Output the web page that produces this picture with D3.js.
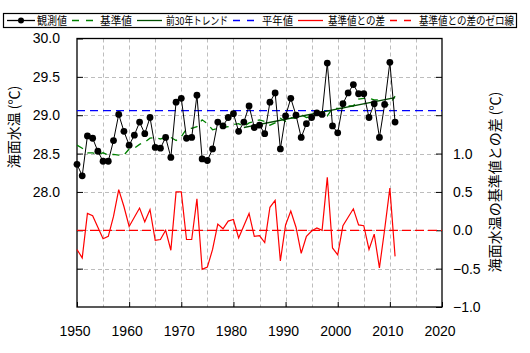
<!DOCTYPE html>
<html>
<head>
<meta charset="utf-8">
<script src="https://cdn.jsdelivr.net/npm/d3@7"></script>
<style>
  body { margin: 0; background: #fff; }
  svg { display: block; }
  .tick text { font-family: "Liberation Sans", Arial, sans-serif; font-size: 14px; fill: #000; }
  .jp { font-family: "Noto Sans CJK JP", sans-serif; fill: #000; }
</style>
</head>
<body>
<div id="chart"></div>
<script>
// years 1950-2011
const years = d3.range(1950, 2012);

// 観測値 (left axis, ℃)
const observed = [
  28.36, 28.21, 28.73, 28.70, 28.53, 28.40, 28.40, 28.67, 29.01, 28.79,
  28.61, 28.74, 28.91, 28.76, 28.97, 28.58, 28.57, 28.71, 28.45, 29.17,
  29.22, 28.70, 28.71, 29.26, 28.43, 28.41, 28.56, 28.91, 28.86, 28.97,
  29.02, 28.79, 28.91, 29.12, 28.84, 28.87, 28.76, 29.17, 29.29, 28.56,
  28.99, 29.22, 29.00, 28.71, 28.89, 28.97, 29.03, 29.01, 29.68, 28.86,
  28.77, 29.15, 29.29, 29.40, 29.28, 29.28, 28.97, 29.15, 28.71, 29.14,
  29.69, 28.91
];

// 基準値 (left axis, ℃)
const baseline = [
  28.61, 28.57, 28.51, 28.51, 28.49, 28.51, 28.48, 28.49, 28.48, 28.48,
  28.56, 28.57, 28.62, 28.65, 28.70, 28.71, 28.69, 28.71, 28.71, 28.67,
  28.72, 28.82, 28.83, 28.85, 28.94, 28.89, 28.81, 28.83, 28.84, 28.85,
  28.88, 28.89, 28.85, 28.90, 28.92, 28.94, 28.92, 28.87, 28.90, 28.96,
  28.92, 28.97, 28.96, 29.01, 28.97, 28.98, 29.00, 29.01, 28.99, 29.09,
  29.09, 29.09, 29.12, 29.12, 29.21, 29.22, 29.22, 29.20, 29.20, 29.13,
  29.14, 29.25
];

// 基準値との差 (right axis, ℃)
const diff = [
  -0.25, -0.36, 0.22, 0.19, 0.04, -0.11, -0.08, 0.18, 0.53, 0.31,
  0.05, 0.17, 0.29, 0.11, 0.27, -0.13, -0.12, 0.00, -0.26, 0.50,
  0.50, -0.12, -0.12, 0.41, -0.51, -0.48, -0.25, 0.08, 0.02, 0.12,
  0.14, -0.10, 0.06, 0.22, -0.08, -0.07, -0.16, 0.30, 0.39, -0.40,
  0.07, 0.25, 0.04, -0.30, -0.08, -0.01, 0.03, 0.00, 0.69, -0.23,
  -0.32, 0.06, 0.17, 0.28, 0.07, 0.06, -0.25, -0.05, -0.49, 0.01,
  0.55, -0.34
];

// 前30年トレンド
const trendYears = [1982, 2011];
const trendValues = [28.84, 29.23];

// 平年値
const normalValue = 29.06;

const xTicks = [1950, 1960, 1970, 1980, 1990, 2000, 2010, 2020];
const xGrid = d3.range(1955, 2020, 5);
const leftTicks = [27.0, 27.5, 28.0, 28.5, 29.0, 29.5, 30.0];
const rightTicks = [-0.5, 0.0, 0.5, 1.0, 1.5, 2.0];
const legendLabels = ["観測値", "基準値", "前30年トレンド", "平年値", "基準値との差", "基準値との差のゼロ線"];

const width = 530, height = 353;
const plotLeft = 77, plotRight = 442, plotTop = 38.5, plotBottom = 307;

const svg = d3.select("#chart").append("svg")
  .attr("width", width)
  .attr("height", height);

const x = d3.scaleLinear().domain([1950, 2020]).range([plotLeft, plotRight]);
const yL = d3.scaleLinear().domain([26.5, 30]).range([plotBottom, plotTop]);
const yR = d3.scaleLinear().domain([-1, 2.5]).range([plotBottom, plotTop]);

// grid
svg.append("g")
  .selectAll("line")
  .data(xGrid)
  .join("line")
    .attr("x1", d => Math.round(x(d)) + 0.5)
    .attr("x2", d => Math.round(x(d)) + 0.5)
    .attr("y1", plotTop)
    .attr("y2", plotBottom)
    .attr("stroke", "#bdbdbd")
    .attr("stroke-dasharray", "4,3");

svg.append("g")
  .selectAll("line")
  .data(leftTicks.filter(d => d < 30))
  .join("line")
    .attr("x1", plotLeft)
    .attr("x2", plotRight)
    .attr("y1", d => Math.round(yL(d)) + 0.5)
    .attr("y2", d => Math.round(yL(d)) + 0.5)
    .attr("stroke", "#bdbdbd")
    .attr("stroke-dasharray", "4,3");

// axes
svg.append("g")
  .attr("transform", `translate(${plotLeft}, 0)`)
  .call(d3.axisLeft(yL).tickValues(leftTicks).tickSize(-6).tickPadding(17)
    .tickFormat(d => d >= 28 ? d3.format(".1f")(d) : ""))
  .call(g => g.select(".domain").remove());

svg.append("g")
  .attr("transform", `translate(${plotRight}, 0)`)
  .call(d3.axisRight(yR).tickValues([-1.0, ...rightTicks]).tickSize(-6).tickPadding(11)
    .tickFormat(d => d <= 1 ? d3.format(".1f")(d) : ""))
  .call(g => g.select(".domain").remove());

svg.append("g")
  .attr("transform", `translate(0, ${plotBottom})`)
  .call(d3.axisBottom(x).tickValues(xTicks).tickSize(-5).tickPadding(19))
  .call(g => g.select(".domain").remove())
  .call(g => g.selectAll("text").attr("dx", -2.5).text(d => d));

svg.selectAll(".tick line").attr("stroke", "#000");

// frame
svg.append("rect")
  .attr("x", plotLeft)
  .attr("y", plotTop)
  .attr("width", plotRight - plotLeft)
  .attr("height", plotBottom - plotTop)
  .attr("fill", "none")
  .attr("stroke", "#000")
  .attr("stroke-width", 1.3);

// 平年値
svg.append("line")
  .attr("x1", plotLeft)
  .attr("x2", plotRight)
  .attr("y1", yL(normalValue))
  .attr("y2", yL(normalValue))
  .attr("stroke", "#0000ff")
  .attr("stroke-width", 1.3)
  .attr("stroke-dasharray", "8,5");

// zero line of diff
svg.append("line")
  .attr("x1", plotLeft)
  .attr("x2", plotRight)
  .attr("y1", yR(0))
  .attr("y2", yR(0))
  .attr("stroke", "#ff0000")
  .attr("stroke-width", 1.3)
  .attr("stroke-dasharray", "9,4");

// 基準値との差
svg.append("path")
  .datum(diff)
  .attr("fill", "none")
  .attr("stroke", "#ff0000")
  .attr("stroke-width", 1.2)
  .attr("d", d3.line().x((d, i) => x(years[i])).y(d => yR(d)));

// 基準値
svg.append("path")
  .datum(baseline)
  .attr("fill", "none")
  .attr("stroke", "#008000")
  .attr("stroke-width", 1.3)
  .attr("stroke-dasharray", "7,6")
  .attr("d", d3.line().x((d, i) => x(years[i])).y(d => yL(d)));

// 前30年トレンド
svg.append("path")
  .datum(trendValues)
  .attr("fill", "none")
  .attr("stroke", "#004d00")
  .attr("stroke-width", 1.3)
  .attr("d", d3.line().x((d, i) => x(trendYears[i])).y(d => yL(d)));

// 観測値
svg.append("path")
  .datum(observed)
  .attr("fill", "none")
  .attr("stroke", "#000")
  .attr("stroke-width", 1)
  .attr("d", d3.line().x((d, i) => x(years[i])).y(d => yL(d)));

svg.append("g")
  .selectAll("circle")
  .data(observed)
  .join("circle")
    .attr("cx", (d, i) => x(years[i]))
    .attr("cy", d => yL(d))
    .attr("r", 3.4)
    .attr("fill", "#000");

// axis titles
svg.append("text")
  .attr("class", "jp")
  .attr("transform", `translate(19, 127) rotate(-90)`)
  .attr("text-anchor", "middle")
  .style("font-size", "14px")
  .text("海面水温 (℃)");

svg.append("text")
  .attr("class", "jp")
  .attr("transform", `translate(500, 182) rotate(-90)`)
  .attr("text-anchor", "middle")
  .style("font-size", "14px")
  .text("海面水温の基準値との差 (℃)");

// legend
const legend = svg.append("g");
legend.append("rect")
  .attr("x", 3.5)
  .attr("y", 13.5)
  .attr("width", 513)
  .attr("height", 14)
  .attr("fill", "#fff")
  .attr("stroke", "#000")
  .attr("stroke-width", 1.2);

const legendStyle = [
  { x1: 7, x2: 35, tx: 37, w: 30, color: "#000", dash: null, dot: true },
  { x1: 72, x2: 96, tx: 100, w: 32, color: "#008000", dash: "7,7" },
  { x1: 137, x2: 162, tx: 166, w: 62, color: "#004d00", dash: null },
  { x1: 233, x2: 256, tx: 262, w: 31, color: "#0000ff", dash: "7,7" },
  { x1: 298, x2: 323, tx: 328, w: 57, color: "#ff0000", dash: null },
  { x1: 390, x2: 414, tx: 419, w: 95, color: "#ff0000", dash: "7,7" }
];

legendLabels.forEach((label, i) => {
  const s = legendStyle[i];
  legend.append("line")
    .attr("x1", s.x1)
    .attr("x2", s.x2)
    .attr("y1", 20.5)
    .attr("y2", 20.5)
    .attr("stroke", s.color)
    .attr("stroke-width", 1.3)
    .attr("stroke-dasharray", s.dash);
  if (s.dot) {
    legend.append("circle")
      .attr("cx", (s.x1 + s.x2) / 2)
      .attr("cy", 20.5)
      .attr("r", 3)
      .attr("fill", s.color);
  }
  legend.append("text")
    .attr("class", "jp")
    .attr("x", s.tx)
    .attr("y", 24.5)
    .attr("textLength", s.w)
    .attr("lengthAdjust", "spacingAndGlyphs")
    .style("font-size", "11px")
    .text(label);
});
</script>
</body>
</html>
